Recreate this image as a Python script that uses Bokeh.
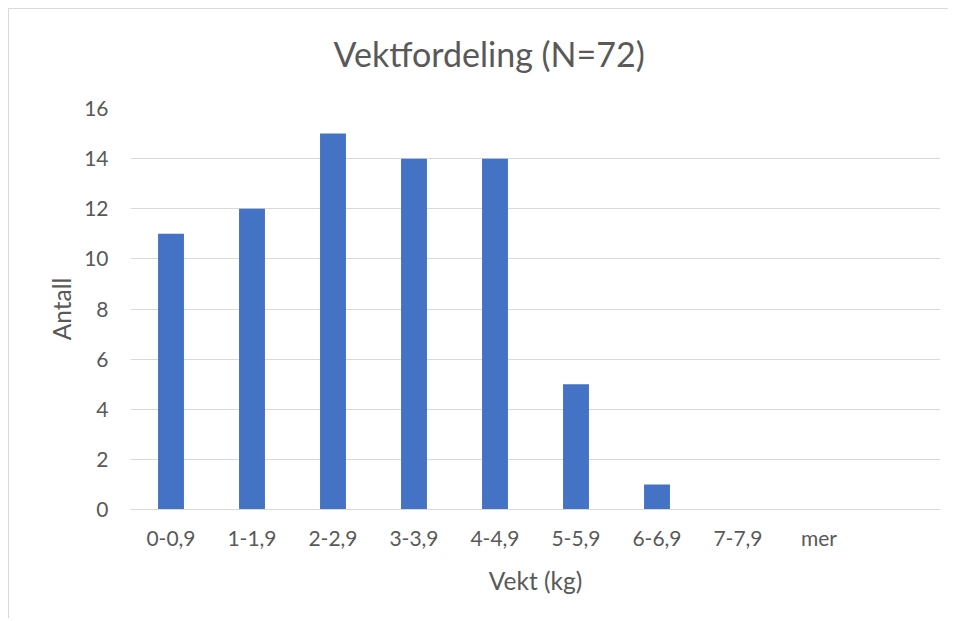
from bokeh.plotting import figure
from bokeh.models import ColumnDataSource, FixedTicker, Title
from bokeh.embed import file_html
from bokeh.resources import INLINE

categories = ["0-0,9", "1-1,9", "2-2,9", "3-3,9", "4-4,9", "5-5,9", "6-6,9", "7-7,9", "mer", " "]
counts = [11, 12, 15, 14, 14, 5, 1, 0, 0, 0]
y_ticks = [0, 2, 4, 6, 8, 10, 12, 14, 16]
title_text = "Vektfordeling (N=72)"

TEXT = "#595959"
GRID = "#d9d9d9"
BAR = "#4472C4"
FONT = "Lato"

src = ColumnDataSource(dict(cat=categories, n=counts))

p = figure(x_range=categories, y_range=(0, 16), width=940, height=610,
           output_backend="svg", toolbar_location=None, title_location=None,
           min_border_left=121, min_border_right=9, min_border_top=99, min_border_bottom=110)
p.styles = {"border-left": "1px solid #d9d9d9", "border-top": "1px solid #d9d9d9",
            "margin-left": "8px", "margin-top": "8px"}

p.vbar(x="cat", top="n", width=0.32, source=src, color=BAR, line_color=None)

# spacer panel between the title and the plot area
p.add_layout(Title(text=" ", text_font_size="1px", standoff=22), "above")
p.add_layout(Title(text=title_text, text_font=FONT, text_font_size="34px",
                   text_font_style="normal", text_color=TEXT, align="left",
                   offset=203, standoff=20), "above")

p.outline_line_color = None
p.background_fill_color = "white"
p.border_fill_color = "white"

p.xgrid.grid_line_color = None
p.ygrid.grid_line_color = GRID
p.ygrid.grid_line_width = 1

p.yaxis.ticker = FixedTicker(ticks=y_ticks)
p.yaxis.axis_line_color = None
p.yaxis.major_tick_line_color = None
p.yaxis.minor_tick_line_color = None
p.yaxis.major_label_standoff = 16
p.yaxis.axis_label = "Antall"
p.yaxis.axis_label_standoff = 5

p.xaxis.axis_line_color = GRID
p.xaxis.major_tick_line_color = None
p.xaxis.minor_tick_line_color = None
p.xaxis.major_label_standoff = 9
p.xaxis.axis_label = "Vekt (kg)"
p.xaxis.axis_label_standoff = 13

for ax in (p.xaxis, p.yaxis):
    ax.major_label_text_font = FONT
    ax.major_label_text_font_size = "21px"
    ax.major_label_text_color = TEXT
    ax.axis_label_text_font = FONT
    ax.axis_label_text_font_size = "24.5px"
    ax.axis_label_text_font_style = "normal"
    ax.axis_label_text_color = TEXT

open("out.html", "w").write(file_html(p, INLINE))
